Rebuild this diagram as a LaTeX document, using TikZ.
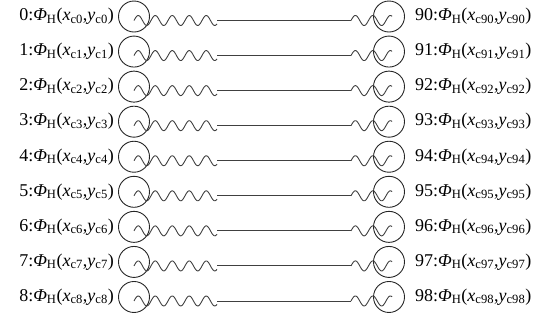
\documentclass[tikz,border=0pt]{standalone}
\usepackage{fontspec}
\setmainfont{Liberation Serif}
\usepackage{tikz}
\usetikzlibrary{positioning}

\newcommand{\phlabel}[1]{\textit{Φ}\textsubscript{H}(\textit{x}\textsubscript{#1},\textit{y}\textsubscript{#1})}

\begin{document}
\begin{tikzpicture}[x=1pt,y=-1pt,
  every node/.style={inner sep=0pt},
  osc/.style={draw=black!85,circle,minimum size=31pt,line width=0.9pt},
  lbl/.style={font=\fontsize{18}{18}\selectfont},
  conn/.style={draw=black!75,line width=0.9pt},
  wave/.style={conn,samples=90,smooth}]
  \useasboundingbox (0,0) rectangle (546,322);
  \foreach \i in {0,...,8}{
    \pgfmathsetmacro{\yy}{16.5+35.06*\i}
    % oscillator pair of row \i
    \node[osc] (l\i) at (134,\yy) {};
    \node[osc] (r\i) at (389,\yy) {};
    \node[lbl,anchor=east] (tl\i) at ([xshift=-4pt]l\i.west) {\i:\phlabel{c\i}};
    \node[lbl,anchor=west] (tr\i) at ([xshift=10pt]r\i.east) {9\i:\phlabel{c9\i}};
    \coordinate (s\i) at ([yshift=-4pt]l\i.center);
    \coordinate (a\i) at ([xshift=83pt]s\i);
    \coordinate (b\i) at ([xshift=217pt]s\i);
    \draw[wave,shift={(s\i)}] plot[domain=0:83] (\x,{-5*sin(21.176*\x)});
    \draw[conn] (a\i) -- (b\i);
    \draw[wave,shift={(b\i)}] plot[domain=0:41] (\x,{-5*sin(20.571*\x)});
  }
\end{tikzpicture}
\end{document}
